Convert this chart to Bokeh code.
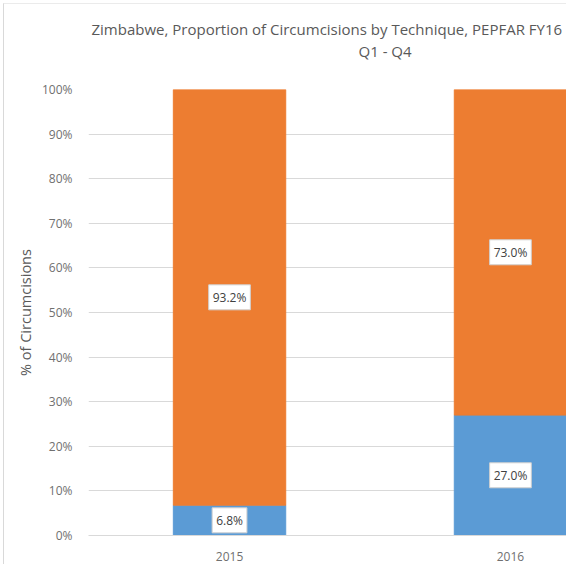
from bokeh.plotting import figure
from bokeh.models import Range1d, FixedTicker, NumeralTickFormatter, Label, ColumnDataSource, Title
from bokeh.embed import file_html
from bokeh.resources import INLINE

years = ["2015", "2016"]
conventional = [0.068, 0.270]   # blue (bottom)
device = [0.932, 0.730]         # orange (top)
y_ticks = [0, 0.1, 0.2, 0.3, 0.4, 0.5, 0.6, 0.7, 0.8, 0.9, 1.0]
title_line1 = "Zimbabwe, Proportion of Circumcisions by Technique, PEPFAR FY16"
title_line2 = "Q1 - Q4"

FONT = "Open Sans"
GREY = "#595959"
TICK_GREY = "#707070"
BLUE = "#5B9BD5"
ORANGE = "#ED7D31"

xs = list(range(len(years)))
bottom_top = [c + d for c, d in zip(conventional, device)]

p = figure(width=563, height=561, output_backend="svg", toolbar_location=None,
           x_range=Range1d(-0.502, 1.203), y_range=Range1d(0, 1),
           min_border_left=84, min_border_right=0, min_border_top=85, min_border_bottom=30)
p.styles = {"border-left": "1px solid #D9D9D9", "border-top": "1px solid #EBEBEB",
            "margin-left": "3px", "margin-top": "3px"}
p.outline_line_color = None
p.xgrid.grid_line_color = None
p.ygrid.grid_line_color = "#D9D9D9"
p.ygrid.ticker = FixedTicker(ticks=y_ticks)

src = ColumnDataSource(dict(x=xs, c=conventional, top=bottom_top))
p.vbar(x="x", bottom=0, top="c", width=0.4, color=BLUE, source=src)
p.vbar(x="x", bottom="c", top="top", width=0.4, color=ORANGE, source=src)

# axes
p.yaxis.ticker = FixedTicker(ticks=y_ticks)
p.yaxis.formatter = NumeralTickFormatter(format="0%")
p.yaxis.axis_line_color = None
p.yaxis.major_tick_line_color = None
p.yaxis.minor_tick_line_color = None
p.yaxis.major_label_text_font = FONT
p.yaxis.major_label_text_font_size = "12px"
p.yaxis.major_label_text_color = TICK_GREY
p.yaxis.major_label_standoff = 10
p.yaxis.axis_label = "% of Circumcisions"
p.yaxis.axis_label_text_font = FONT
p.yaxis.axis_label_text_font_size = "14.5px"
p.yaxis.axis_label_text_font_style = "normal"
p.yaxis.axis_label_text_color = GREY
p.yaxis.axis_label_standoff = 4

p.xaxis.ticker = FixedTicker(ticks=xs)
p.xaxis.major_label_overrides = {i: y for i, y in zip(xs, years)}
p.xaxis.axis_line_color = "#D9D9D9"
p.xaxis.major_tick_line_color = None
p.xaxis.minor_tick_line_color = None
p.xaxis.major_label_text_font = FONT
p.xaxis.major_label_text_font_size = "12px"
p.xaxis.major_label_text_color = TICK_GREY
p.xaxis.major_label_standoff = 10

# data labels
def add_label(x, y, txt):
    shadow = Label(x=x, y=y, text=txt, text_align="center", text_baseline="middle",
                   text_font=FONT, text_font_size="12px", text_alpha=0.0,
                   x_offset=2, y_offset=-3, padding=4,
                   background_fill_color="#404040", background_fill_alpha=0.3)
    lab = Label(x=x, y=y, text=txt, text_align="center", text_baseline="middle",
                text_font=FONT, text_font_size="12px", text_color="#404040",
                padding=4, background_fill_color="white",
                border_line_color="#D0D0D0", border_line_width=1)
    p.add_layout(shadow)
    p.add_layout(lab)

for x, c, d in zip(xs, conventional, device):
    add_label(x, c / 2, f"{c*100:.1f}%")
    add_label(x, c + d / 2, f"{d*100:.1f}%")

# two-line title; a blank spacer panel keeps the gap above the plot area
spacer = Title(text="\u00a0", text_font=FONT, text_font_size="15px",
               text_color="white", standoff=7)
t2 = Title(text=title_line2, align="left", offset=270, text_font=FONT, text_font_size="15px",
           text_font_style="normal", text_color=GREY, standoff=0, vertical_align="bottom")
t1 = Title(text=title_line1, align="left", offset=3, text_font=FONT, text_font_size="15px",
           text_font_style="normal", text_color=GREY, standoff=0, vertical_align="bottom")
p.add_layout(spacer, "above")
p.add_layout(t2, "above")
p.add_layout(t1, "above")

open("out.html", "w").write(file_html(p, INLINE))
